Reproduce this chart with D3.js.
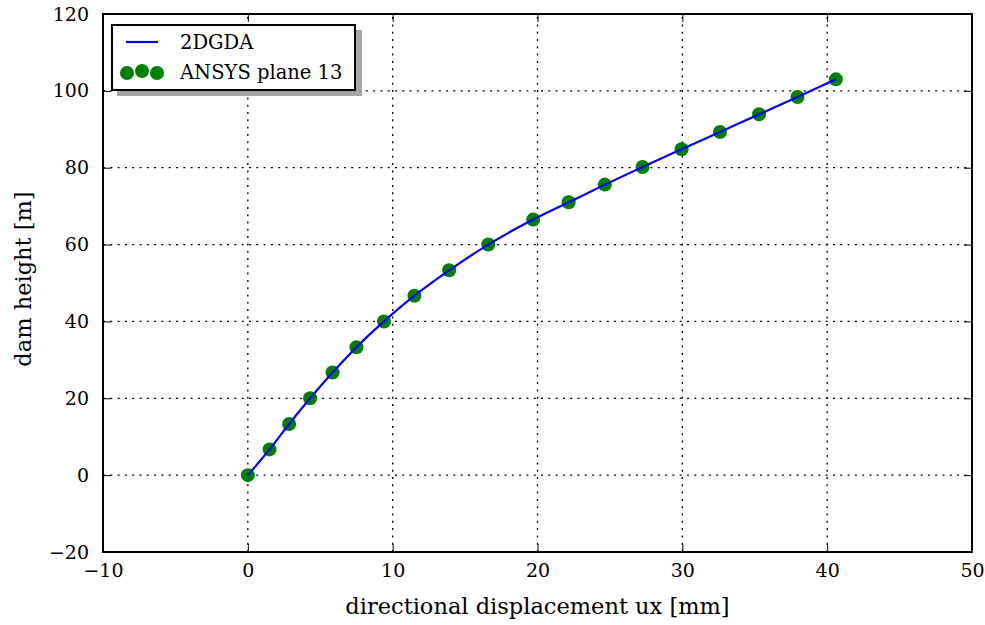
<!DOCTYPE html>
<meta charset="utf-8">
<script src="https://d3js.org/d3.v7.min.js"></script>
<style>
    body {margin: 0; background: #fff;}
</style>
<body>
<svg width="985" height="625" font-family="DejaVu Serif"></svg>
<script>
    // displacement ux [mm] and height [m]
    var ux = [0, 1.5, 2.85, 4.3, 5.85, 7.5, 9.4, 11.5, 13.9, 16.6, 19.7, 22.15, 24.65, 27.25, 29.95, 32.6, 35.3, 37.95, 40.6];
    var height = [0, 6.7, 13.3, 20, 26.7, 33.3, 40, 46.7, 53.3, 60, 66.5, 71, 75.6, 80.2, 84.8, 89.3, 93.9, 98.4, 103];
    var xTicks = [-10, 0, 10, 20, 30, 40, 50];
    var yTicks = [-20, 0, 20, 40, 60, 80, 100, 120];
    var labels = ["2DGDA", "ANSYS plane 13"];

    var data = ux.map(function(d, i){ return {x: d, y: height[i]}; });

    var svg = d3.select("svg"),
        margin = {top: 14, right: 13, bottom: 73, left: 103},
        w = 985 - margin.left - margin.right,
        h = 625 - margin.top - margin.bottom;

    var x = d3.scaleLinear().domain([-10, 50]).range([margin.left, margin.left + w]);
    var y = d3.scaleLinear().domain([-20, 120]).range([margin.top + h, margin.top]);

    // grid
    var grid = svg.append("g").attr("stroke", "#000").attr("stroke-width", 1.3)
        .attr("stroke-dasharray", "2,5.3");
    grid.selectAll(".gx").data(xTicks.slice(1, -1)).enter().append("line")
        .attr("x1", d => x(d)).attr("x2", d => x(d))
        .attr("y1", y(-20)).attr("y2", y(120));
    grid.selectAll(".gy").data(yTicks.slice(1, -1)).enter().append("line")
        .attr("y1", d => y(d)).attr("y2", d => y(d))
        .attr("x1", x(-10)).attr("x2", x(50));

    // axes with inward ticks on all sides
    function styleAxis(g){
        g.attr("font-family", null);
        g.select(".domain").remove();
        g.selectAll(".tick line").attr("stroke", "#000").attr("stroke-width", 1);
        g.selectAll(".tick text").attr("font-size", 19).attr("fill", "#000");
    }
    var fmt = d => d < 0 ? "\u2212" + Math.abs(d) : d;
    svg.append("g").attr("transform", "translate(0," + y(-20) + ")")
        .call(d3.axisBottom(x).tickValues(xTicks).tickSizeInner(-8).tickPadding(12).tickFormat(fmt))
        .call(styleAxis);
    svg.append("g").attr("transform", "translate(0," + y(120) + ")")
        .call(d3.axisTop(x).tickValues(xTicks).tickSizeInner(-8).tickFormat(""))
        .call(styleAxis);
    svg.append("g").attr("transform", "translate(" + x(-10) + ",0)")
        .call(d3.axisLeft(y).tickValues(yTicks).tickSizeInner(-8).tickPadding(14).tickFormat(fmt))
        .call(styleAxis);
    svg.append("g").attr("transform", "translate(" + x(50) + ",0)")
        .call(d3.axisRight(y).tickValues(yTicks).tickSizeInner(-8).tickFormat(""))
        .call(styleAxis);

    svg.append("rect")
        .attr("x", x(-10)).attr("y", y(120))
        .attr("width", x(50) - x(-10)).attr("height", y(-20) - y(120))
        .attr("fill", "none").attr("stroke", "#000").attr("stroke-width", 2);

    // markers and line
    svg.append("g").selectAll("circle").data(data).enter().append("circle")
        .attr("cx", d => x(d.x)).attr("cy", d => y(d.y))
        .attr("r", 7).attr("fill", "#008000");

    var line = d3.line().x(d => x(d.x)).y(d => y(d.y)).curve(d3.curveMonotoneX);
    svg.append("path").datum(data)
        .attr("d", line).attr("fill", "none")
        .attr("stroke", "#0000ff").attr("stroke-width", 2.2);

    // axis labels
    svg.append("text").attr("x", x(20)).attr("y", 614)
        .attr("text-anchor", "middle").attr("font-size", 22.5)
        .text("directional displacement ux [mm]");
    svg.append("text").attr("transform", "translate(31," + (y(50) - 4) + ") rotate(-90)")
        .attr("text-anchor", "middle").attr("font-size", 22.5)
        .text("dam height [m]");

    // legend
    var lg = svg.append("g").attr("transform", "translate(112,25)");
    lg.append("rect").attr("x", 5).attr("y", 5).attr("width", 245).attr("height", 66).attr("fill", "#a6a6a6");
    lg.append("rect").attr("width", 243).attr("height", 65)
        .attr("fill", "#fff").attr("stroke", "#000").attr("stroke-width", 2);
    lg.append("line").attr("x1", 14).attr("x2", 46).attr("y1", 17).attr("y2", 17)
        .attr("stroke", "#0000ff").attr("stroke-width", 2.2);
    lg.selectAll(".mk").data([15, 30, 45]).enter().append("circle")
        .attr("cx", d => d).attr("cy", d => d === 30 ? 46 : 48).attr("r", 7).attr("fill", "#008000");
    lg.selectAll(".lt").data(labels).enter().append("text")
        .attr("x", 68).attr("y", (d, i) => 24 + i * 30)
        .attr("font-size", 19.5).text(d => d);
</script>
</body>
